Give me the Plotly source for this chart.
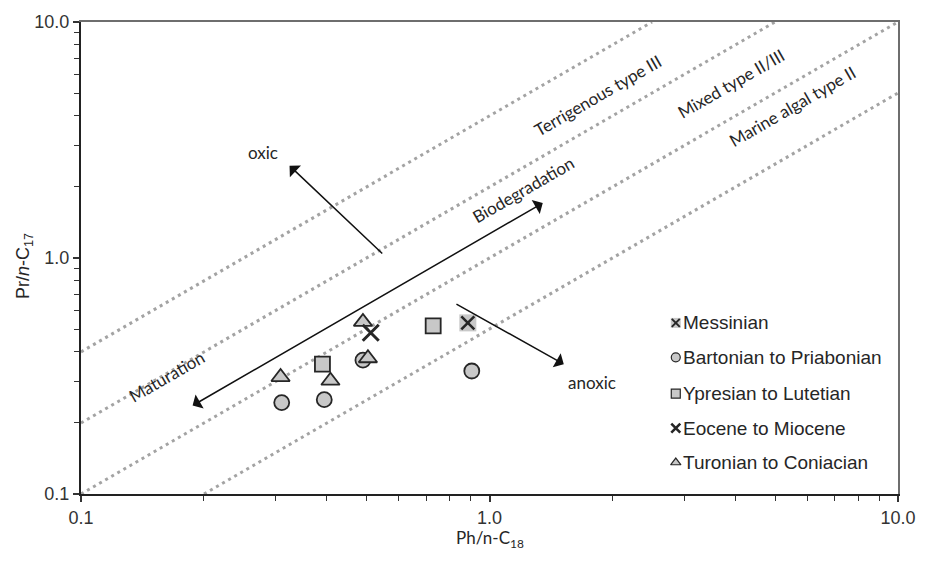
import numpy as np
import plotly.graph_objects as go

# ---------------- data ----------------
mess_ph = [0.885]; mess_pr = [0.531]
bart_ph = [0.310, 0.394, 0.490, 0.905]; bart_pr = [0.244, 0.251, 0.369, 0.332]
ypres_ph = [0.390, 0.728]; ypres_pr = [0.355, 0.516]
eoc_ph = [0.512]; eoc_pr = [0.482]
tur_ph = [0.308, 0.408, 0.490, 0.504]; tur_pr = [0.313, 0.302, 0.536, 0.376]

legend_names = ["Messinian", "Bartonian to Priabonian", "Ypresian to Lutetian",
                "Eocene to Miocene", "Turonian to Coniacian"]

line_ratios = [4, 2, 1, 0.5]
line_labels = ["Terrigenous type III", "Mixed type II/III", "Marine algal type II"]
line_label_ph = [1.84, 3.90, 5.50]
line_label_pr = [4.90, 5.50, 4.40]

# arrows: (tail Ph, tail Pr) -> (head Ph, head Pr)
arrow_names = ["Maturation/Biodegradation", "oxic", "anoxic"]
arrow_tail_ph = [0.186, 0.551, 0.823]
arrow_tail_pr = [0.235, 1.03, 0.643]
arrow_head_ph = [1.35, 0.324, 1.52]
arrow_head_pr = [1.71, 2.46, 0.355]

text_labels = ["Biodegradation", "Maturation", "oxic", "anoxic"]
text_ph = [1.21, 0.162, 0.279, 1.78]
text_pr = [1.96, 0.315, 2.79, 0.296]
text_rot = [-30, -30, 0, 0]

MK_FILL = "#c8c8c8"
MK_LINE = "#262626"
CAL = "Lato, Carlito, Calibri, sans-serif"
ARI = "Liberation Sans, Arial, sans-serif"

fig = go.Figure()

# dotted source lines
for k in line_ratios:
    xs = np.array([max(0.1, 0.1 / k), min(10, 10 / k)])
    fig.add_trace(go.Scatter(x=xs, y=k * xs, mode="lines",
                             line=dict(color="#a3a3a3", width=3, dash="3px,4px"),
                             hoverinfo="skip"))

def pts(x, y, symbol, size, fill, lw, lcolor):
    fig.add_trace(go.Scatter(x=x, y=y, mode="markers",
                             marker=dict(symbol=symbol, size=size, color=fill,
                                         line=dict(width=lw, color=lcolor))))

pts(bart_ph, bart_pr, "circle", 15, MK_FILL, 1.8, MK_LINE)
pts(ypres_ph, ypres_pr, "square", 15, MK_FILL, 1.8, MK_LINE)
pts(tur_ph, tur_pr, "triangle-up", 16, MK_FILL, 1.8, MK_LINE)
pts(mess_ph, mess_pr, "square", 17, MK_FILL, 0, MK_FILL)
pts(mess_ph, mess_pr, "x-thin", 13, MK_LINE, 2.6, MK_LINE)
pts(eoc_ph, eoc_pr, "x-thin", 16, MK_LINE, 3, MK_LINE)

# legend drawn on overlay axes (fractions of plot area)
leg_x = 0.728
leg_y = [0.3625, 0.2896, 0.2125, 0.1396, 0.0667]
leg_style = [("square", 10, MK_FILL, 0, MK_FILL), ("circle", 9, MK_FILL, 1.2, MK_LINE),
             ("square", 9, MK_FILL, 1.2, MK_LINE), ("x-thin", 9, MK_LINE, 2.6, MK_LINE),
             ("triangle-up", 9, MK_FILL, 1.2, MK_LINE)]
for (sym, sz, fc, lw, lc), yy in zip(leg_style, leg_y):
    fig.add_trace(go.Scatter(x=[leg_x], y=[yy], xaxis="x2", yaxis="y2", mode="markers",
                             marker=dict(symbol=sym, size=sz, color=fc, line=dict(width=lw, color=lc))))
fig.add_trace(go.Scatter(x=[leg_x], y=[leg_y[0]], xaxis="x2", yaxis="y2", mode="markers",
                         marker=dict(symbol="x-thin", size=8, color=MK_LINE, line=dict(width=2, color=MK_LINE))))

annotations = []
for name, yy in zip(legend_names, leg_y):
    annotations.append(dict(x=leg_x, y=yy, xref="x2", yref="y2", text=name, showarrow=False,
                            xanchor="left", yanchor="middle", xshift=5,
                            font=dict(family=ARI, size=19, color="#262626")))

for t, xx, yy in zip(line_labels, line_label_ph, line_label_pr):
    annotations.append(dict(x=np.log10(xx), y=np.log10(yy), xref="x", yref="y", text=t,
                            showarrow=False, textangle=-30,
                            font=dict(family=CAL, size=17, color="#262626")))

for t, xx, yy, r in zip(text_labels, text_ph, text_pr, text_rot):
    annotations.append(dict(x=np.log10(xx), y=np.log10(yy), xref="x", yref="y", text=t,
                            showarrow=False, textangle=r,
                            font=dict(family=CAL, size=17, color="#262626")))

for i in range(len(arrow_names)):
    a = dict(x=np.log10(arrow_head_ph[i]), y=np.log10(arrow_head_pr[i]),
             ax=np.log10(arrow_tail_ph[i]), ay=np.log10(arrow_tail_pr[i]),
             xref="x", yref="y", axref="x", ayref="y", text="", showarrow=True,
             arrowhead=1, arrowsize=1.8, arrowwidth=1.5, arrowcolor="#111111")
    if i == 0:
        a.update(arrowside="end+start", startarrowhead=1, startarrowsize=1.8)
    annotations.append(a)

# axis titles
annotations.append(dict(x=0.5, y=0, xref="paper", yref="paper", yshift=-31, text="Ph/n-C<sub>18</sub>",
                        showarrow=False, yanchor="top", font=dict(family=CAL, size=17, color="#262626")))
annotations.append(dict(x=0, y=0.5, xref="paper", yref="paper", xshift=-57, yshift=-8,
                        text="Pr/<i>n</i>-C<sub>17</sub>", textangle=-90,
                        showarrow=False, xanchor="center", font=dict(family=ARI, size=18, color="#262626")))

minor_vals = [k * 10.0 ** e for e in (-1, 0) for k in range(2, 10)]
axis_common = dict(type="log", range=[-1, 1], tickvals=[0.1, 1, 10], ticktext=["0.1", "1.0", "10.0"],
                   ticks="outside", ticklen=6, tickwidth=1.5, tickcolor="#333",
                   showline=True, linecolor="#222", showgrid=False, zeroline=False,
                   minor=dict(tickvals=minor_vals, ticks="outside", ticklen=5, tickwidth=1.3,
                              tickcolor="#333", showgrid=False),
                   tickfont=dict(family=ARI, size=18, color="#333"))

fig.update_layout(
    width=928, height=561, margin=dict(l=81, r=21, t=14, b=67),
    plot_bgcolor="white", paper_bgcolor="white", showlegend=False,
    xaxis=dict(**axis_common, linewidth=1.8),
    yaxis=dict(**axis_common, linewidth=2.2),
    xaxis2=dict(overlaying="x", side="top", range=[0, 1], showline=True, linecolor="#6e6e6e",
                linewidth=1.8, showticklabels=False, ticks="", showgrid=False, zeroline=False),
    yaxis2=dict(overlaying="y", side="right", range=[0, 1], showline=True, linecolor="#6e6e6e",
                linewidth=1.8, showticklabels=False, ticks="", showgrid=False, zeroline=False),
    annotations=annotations,
)

fig.write_html("out.html", config={"displayModeBar": False},
               post_script="document.body.style.margin='0';document.body.style.overflow='hidden';")
